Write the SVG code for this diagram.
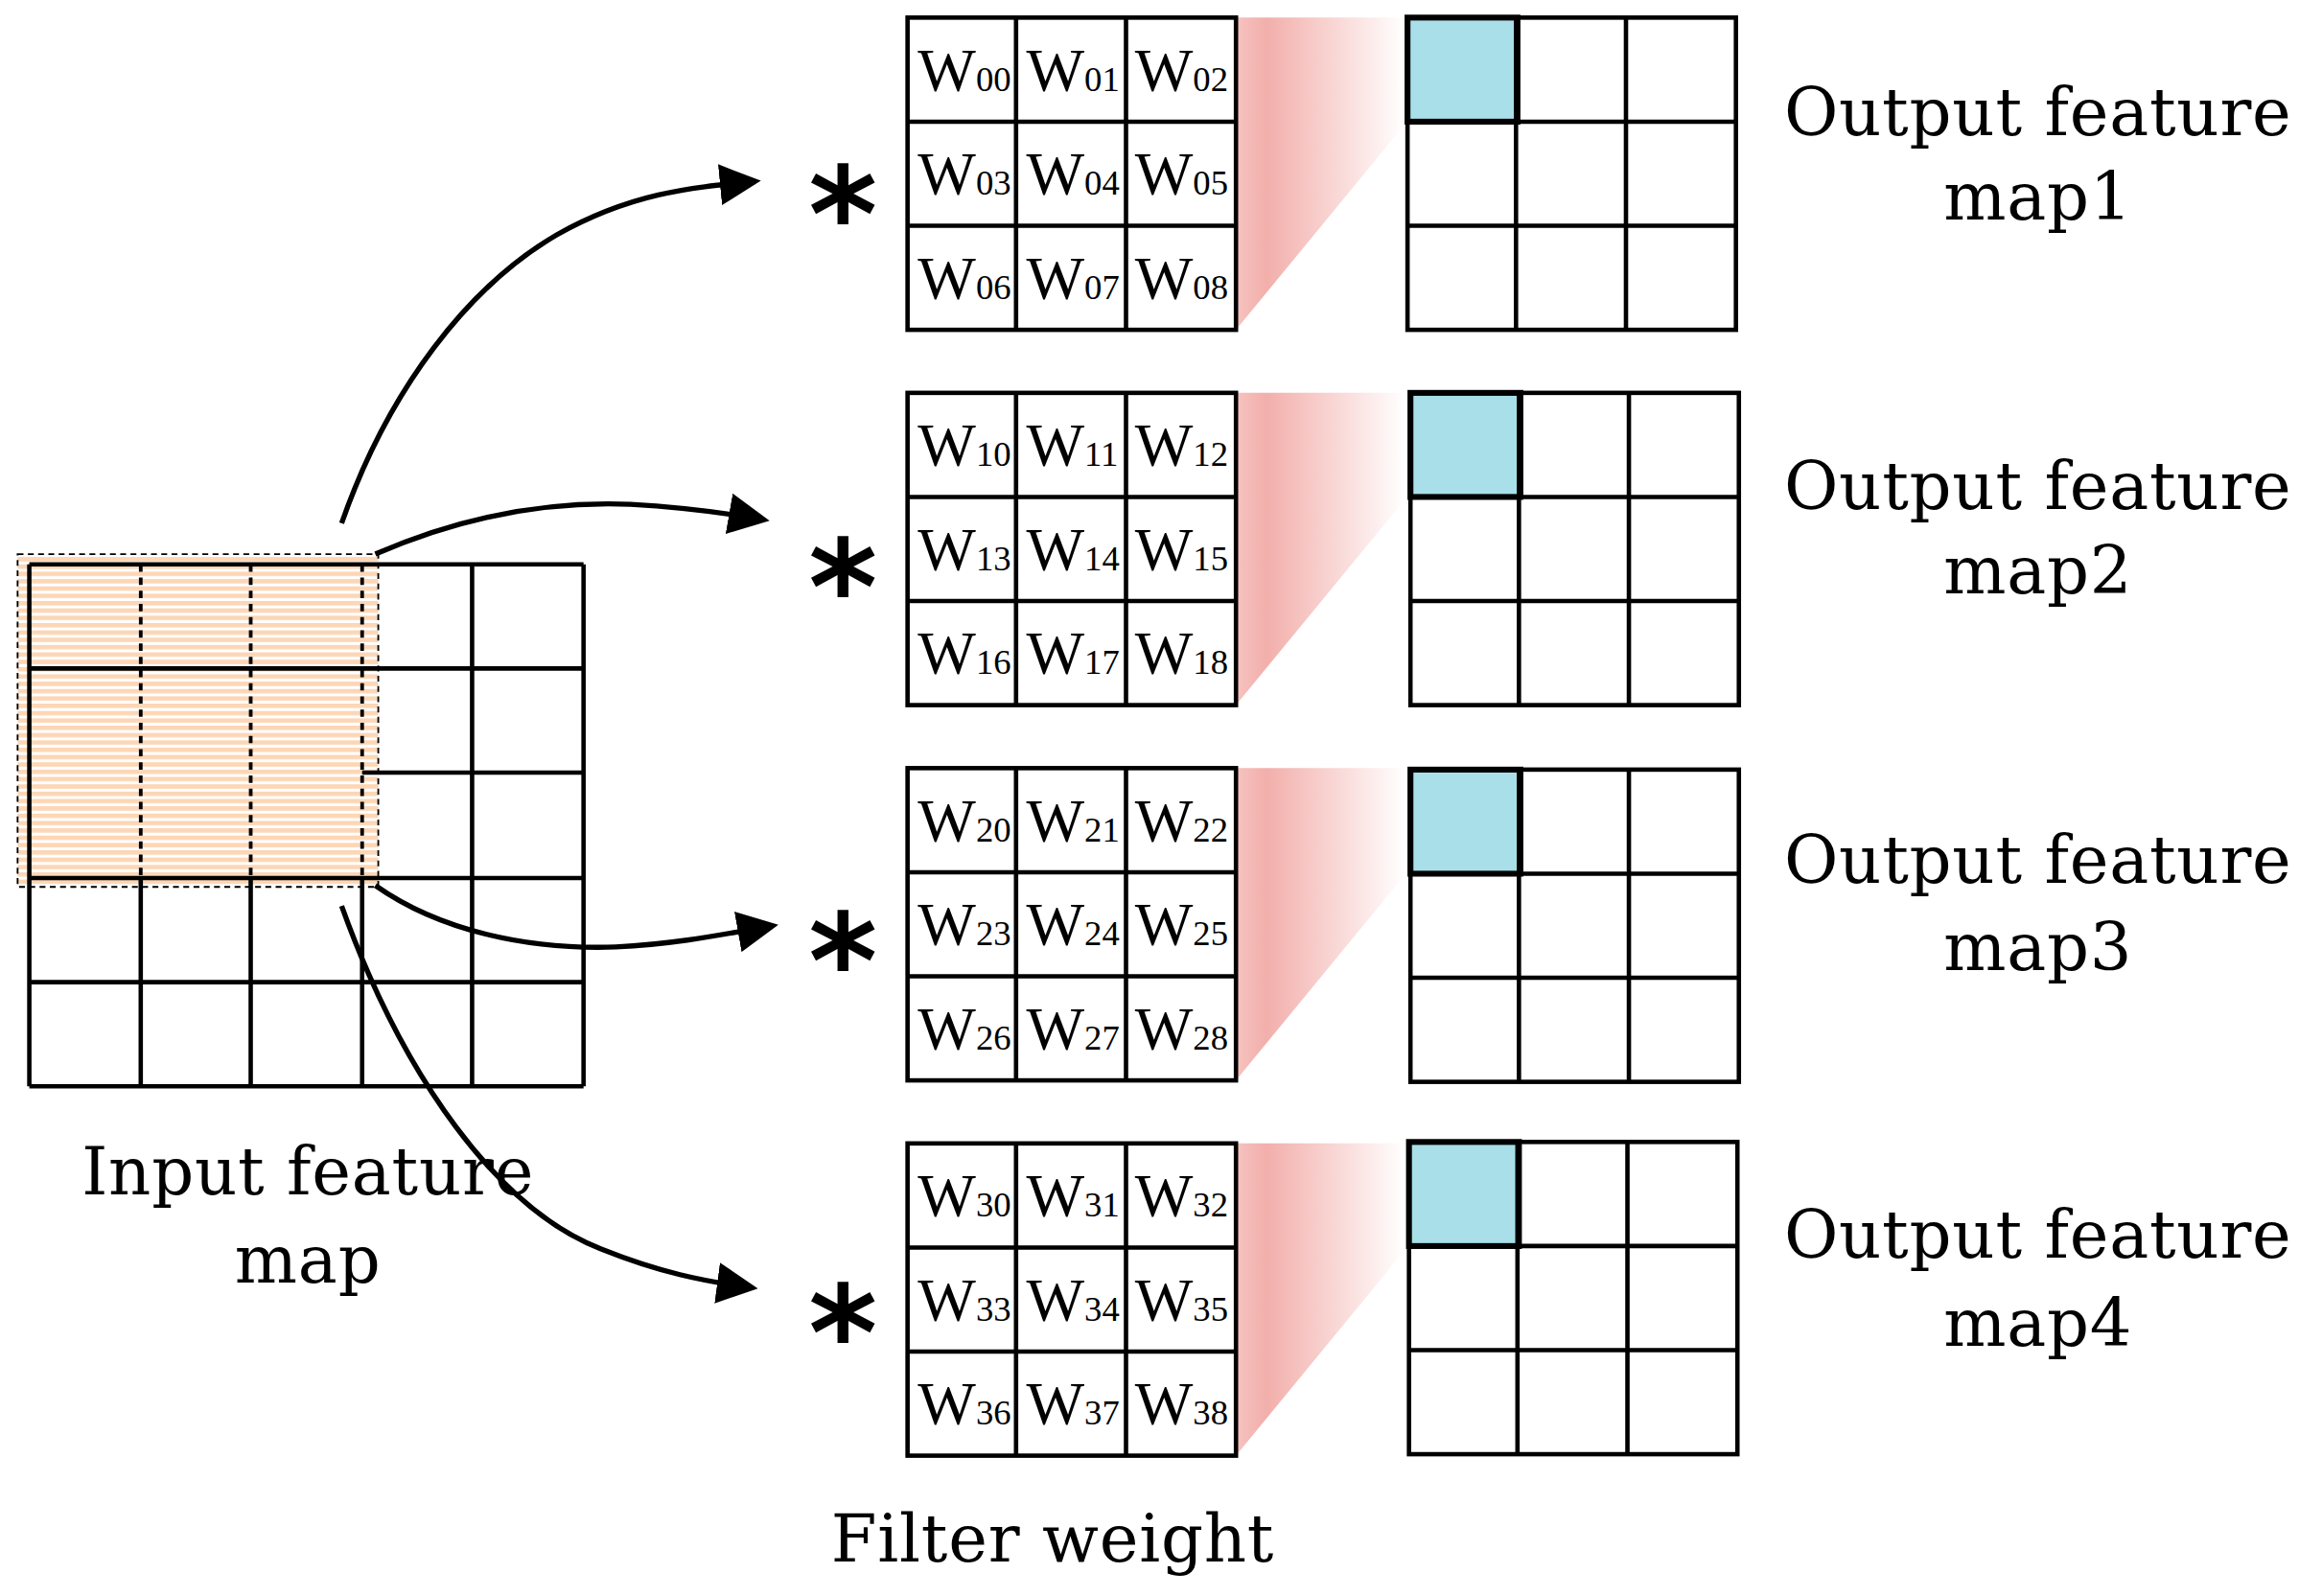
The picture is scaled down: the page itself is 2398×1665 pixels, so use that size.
<svg xmlns="http://www.w3.org/2000/svg" width="2398" height="1665" viewBox="0 0 2398 1665">
<style>
.g{fill:none;stroke:#000;stroke-width:3}
.w{font-family:"Liberation Serif",serif;font-size:42px}
.s{font-size:24px}
.lb{font-family:"DejaVu Serif","Liberation Serif",serif;font-size:45px;letter-spacing:0.5px;text-anchor:middle}
.ast{font-family:"DejaVu Sans",sans-serif;font-size:90px;font-weight:bold;text-anchor:middle}
.c{fill:none;stroke:#000;stroke-width:3.5;marker-end:url(#ah)}
</style>
<defs>
<pattern id="st" width="10" height="5" patternUnits="userSpaceOnUse"><rect width="10" height="5" fill="#fff"/><rect width="10" height="3" fill="#fdd6b5"/></pattern>
<linearGradient id="pk" x1="0" x2="1" y1="0" y2="0"><stop offset="0" stop-color="#f6c3c0"/><stop offset="0.18" stop-color="#f2afab"/><stop offset="1" stop-color="#fff"/></linearGradient>
<marker id="ah" markerWidth="8" markerHeight="8" refX="6" refY="4" orient="auto" markerUnits="strokeWidth"><path d="M0,0 L8,4 L0,8 Z" fill="#000"/></marker>
<g id="fw"><rect x="0" y="0" width="224" height="213" class="g"/><path class="g" d="M74,0V213M149,0V213M0,71H224M0,142H224"/></g>
<g id="og"><path d="M0,0H115L115,73L0,213Z" fill="url(#pk)"/></g>
</defs>
<rect width="2398" height="1665" fill="#fff"/>
<g transform="scale(1.5293)">
<g id="input">
<rect x="12" y="378" width="246" height="227" fill="url(#st)"/>
<path class="g" d="M20,385H398M20,456H398M247,527H398M20,599H398M20,670H398M20,741H398M20,385V741M398,385V741M322,385V741M20,599V741M96,599V741M171,599V741M247,599V741"/>
<path d="M96,385V599M171,385V599M247,385V599" stroke="#000" stroke-width="2.5" stroke-dasharray="5,4"/>
<rect x="12" y="378" width="246" height="227" fill="none" stroke="#000" stroke-width="1.2" stroke-dasharray="4,3"/>
<text class="lb" x="210" y="815">Input feature</text>
<text class="lb" x="210" y="875">map</text>
</g>
<g id="connectors">
<path class="c" d="M233,357 C265,265 320,195 380,160 C430,132 470,128 512,124"/>
<path class="c" d="M256,378 C320,350 380,342 430,344 C465,346 495,350 518,354"/>
<path class="c" d="M256,604 C300,635 360,648 420,646 C460,644 490,638 524,632"/>
<path class="c" d="M233,618 C275,735 340,825 410,852 C450,868 480,874 510,878"/>
</g>
<g id="f0" transform="translate(619,12)"><use href="#og" x="224"/><use href="#fw"/>
<text class="w" x="7" y="50">W<tspan class="s">00</tspan></text><text class="w" x="81" y="50">W<tspan class="s">01</tspan></text><text class="w" x="155" y="50">W<tspan class="s">02</tspan></text>
<text class="w" x="7" y="121">W<tspan class="s">03</tspan></text><text class="w" x="81" y="121">W<tspan class="s">04</tspan></text><text class="w" x="155" y="121">W<tspan class="s">05</tspan></text>
<text class="w" x="7" y="192">W<tspan class="s">06</tspan></text><text class="w" x="81" y="192">W<tspan class="s">07</tspan></text><text class="w" x="155" y="192">W<tspan class="s">08</tspan></text></g>
<g id="f1" transform="translate(619,268)"><use href="#og" x="224"/><use href="#fw"/>
<text class="w" x="7" y="50">W<tspan class="s">10</tspan></text><text class="w" x="81" y="50">W<tspan class="s">11</tspan></text><text class="w" x="155" y="50">W<tspan class="s">12</tspan></text>
<text class="w" x="7" y="121">W<tspan class="s">13</tspan></text><text class="w" x="81" y="121">W<tspan class="s">14</tspan></text><text class="w" x="155" y="121">W<tspan class="s">15</tspan></text>
<text class="w" x="7" y="192">W<tspan class="s">16</tspan></text><text class="w" x="81" y="192">W<tspan class="s">17</tspan></text><text class="w" x="155" y="192">W<tspan class="s">18</tspan></text></g>
<g id="f2" transform="translate(619,524)"><use href="#og" x="224"/><use href="#fw"/>
<text class="w" x="7" y="50">W<tspan class="s">20</tspan></text><text class="w" x="81" y="50">W<tspan class="s">21</tspan></text><text class="w" x="155" y="50">W<tspan class="s">22</tspan></text>
<text class="w" x="7" y="121">W<tspan class="s">23</tspan></text><text class="w" x="81" y="121">W<tspan class="s">24</tspan></text><text class="w" x="155" y="121">W<tspan class="s">25</tspan></text>
<text class="w" x="7" y="192">W<tspan class="s">26</tspan></text><text class="w" x="81" y="192">W<tspan class="s">27</tspan></text><text class="w" x="155" y="192">W<tspan class="s">28</tspan></text></g>
<g id="f3" transform="translate(619,780)"><use href="#og" x="224"/><use href="#fw"/>
<text class="w" x="7" y="50">W<tspan class="s">30</tspan></text><text class="w" x="81" y="50">W<tspan class="s">31</tspan></text><text class="w" x="155" y="50">W<tspan class="s">32</tspan></text>
<text class="w" x="7" y="121">W<tspan class="s">33</tspan></text><text class="w" x="81" y="121">W<tspan class="s">34</tspan></text><text class="w" x="155" y="121">W<tspan class="s">35</tspan></text>
<text class="w" x="7" y="192">W<tspan class="s">36</tspan></text><text class="w" x="81" y="192">W<tspan class="s">37</tspan></text><text class="w" x="155" y="192">W<tspan class="s">38</tspan></text></g>
<g id="asts">
<text class="ast" x="575" y="178">*</text><text class="ast" x="575" y="432">*</text><text class="ast" x="575" y="687">*</text><text class="ast" x="575" y="941">*</text>
</g>
<g id="o1" transform="translate(960,12)"><rect x="0" y="0" width="75" height="71" fill="#a8dfe8" stroke="#000" stroke-width="4"/><use href="#fw"/><text class="lb" x="430" y="80">Output feature</text><text class="lb" x="430" y="138">map1</text></g>
<g id="o2" transform="translate(962,268)"><rect x="0" y="0" width="75" height="71" fill="#a8dfe8" stroke="#000" stroke-width="4"/><use href="#fw"/><text class="lb" x="428" y="79">Output feature</text><text class="lb" x="428" y="137">map2</text></g>
<g id="o3" transform="translate(962,525)"><rect x="0" y="0" width="75" height="71" fill="#a8dfe8" stroke="#000" stroke-width="4"/><use href="#fw"/><text class="lb" x="428" y="77">Output feature</text><text class="lb" x="428" y="137">map3</text></g>
<g id="o4" transform="translate(961,779)"><rect x="0" y="0" width="75" height="71" fill="#a8dfe8" stroke="#000" stroke-width="4"/><use href="#fw"/><text class="lb" x="429" y="79">Output feature</text><text class="lb" x="429" y="139">map4</text></g>
<text class="lb" x="718" y="1065">Filter weight</text>
</g>
</svg>
